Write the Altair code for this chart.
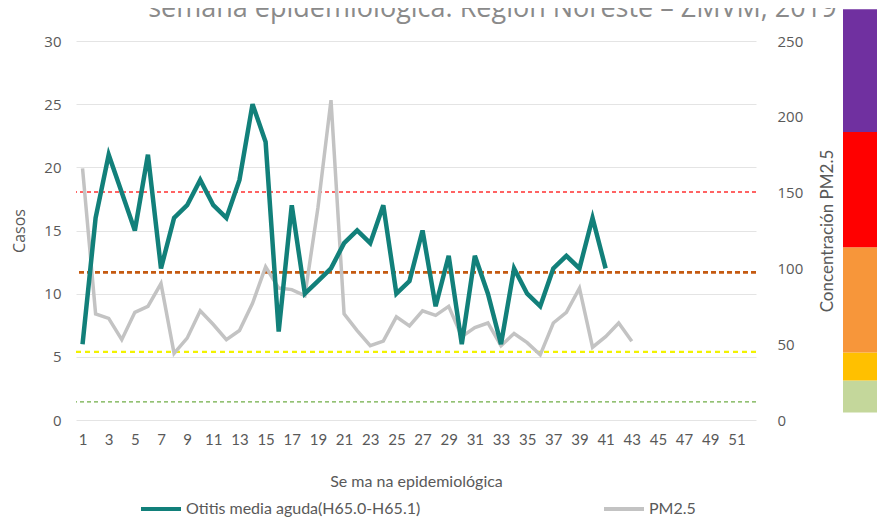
import altair as alt
import pandas as pd

# ---- data ----
weeks_all = list(range(1, 53))
week_ticks = list(range(1, 52, 2))

otitis_weeks = list(range(1, 42))
otitis_cases = [6, 16, 21, 18, 15, 21, 12, 16, 17, 19, 17, 16, 19, 25, 22, 7, 17, 10, 11, 12,
                14, 15, 14, 17, 10, 11, 15, 9, 13, 6, 13, 10, 6, 12, 10, 9, 12, 13, 12, 16, 12]

pm_weeks = list(range(1, 44))
pm_values = [166, 70, 67, 53, 71, 75, 90, 44, 54, 72, 63, 53, 59, 77, 101, 87, 86, 82, 140, 211,
             70, 59, 49, 52, 68, 62, 72, 69, 75, 55, 61, 64, 49, 57, 51, 43, 64, 71, 87, 48,
             55, 64, 52]

series_names = ["Otitis media aguda(H65.0-H65.1)", "PM2.5"]
series_colors = ["#12807a", "#c3c3c3"]

threshold_values = [12, 45, 97.4, 150.4]
threshold_colors = ["#70ad47", "#f2f200", "#c55a11", "#ff3030"]
threshold_widths = [1.3, 2.2, 2.6, 1.5]
threshold_dash = [[4, 3], [5, 4], [5, 3], [4, 3]]

band_lo = [5, 26, 44.5, 114, 190]
band_hi = [26, 44.5, 114, 190, 271]
band_colors = ["#c4d79b", "#ffc000", "#f7963a", "#ff0000", "#7030a0"]

title_text = "semana epidemiológica: Región Noreste – ZMVM, 2019"

TXT = "#595959"

df_ot = pd.DataFrame({"week": otitis_weeks, "val": otitis_cases, "serie": series_names[0]})
df_pm = pd.DataFrame({"week": pm_weeks, "val": pm_values, "serie": series_names[1]})

xenc = alt.X("week:O",
             scale=alt.Scale(domain=weeks_all, padding=0.5),
             axis=alt.Axis(values=week_ticks, labelAngle=0, title="Se ma na epidemiológica",
                           ticks=False, domain=False, grid=False, labelPadding=12,
                           labelFont="Lato", labelFontSize=15, labelColor=TXT,
                           titleFont="Lato", titleFontSize=16, titleFontWeight="normal",
                           titleColor=TXT, titlePadding=26))

color_enc = alt.Color("serie:N",
                      scale=alt.Scale(domain=series_names, range=series_colors),
                      legend=alt.Legend(orient="none", legendX=63, legendY=446,
                                        direction="horizontal", title=None,
                                        symbolType="stroke", symbolSize=1600,
                                        symbolStrokeWidth=4, columnPadding=175,
                                        labelFont="Lato", labelFontSize=16, labelColor=TXT,
                                        labelOffset=3, labelLimit=400, padding=0))

pm_scale = alt.Scale(domain=[0, 250], nice=False, zero=True)
pm_axis = alt.Axis(orient="right", title="Concentración PM2.5", values=[0, 50, 100, 150, 200, 250],
                   grid=False, domain=False, ticks=False, labelPadding=21,
                   labelFont="Open Sans", labelFontSize=15, labelColor=TXT,
                   titleFont="Lato", titleFontSize=17, titleFontWeight="normal",
                   titleColor=TXT, titleAngle=270, titlePadding=34)

rule_layers = []
for v, c, w, d in zip(threshold_values, threshold_colors, threshold_widths, threshold_dash):
    rule_layers.append(
        alt.Chart(pd.DataFrame({"val": [v]})).mark_rule(color=c, strokeWidth=w, strokeDash=d)
        .encode(y=alt.Y("val:Q", scale=pm_scale, axis=pm_axis))
    )

pm_line = alt.Chart(df_pm).mark_line(strokeWidth=3.5, strokeJoin="miter").encode(
    x=xenc,
    y=alt.Y("val:Q", scale=pm_scale, axis=pm_axis),
    color=color_enc,
)

pm_group = alt.layer(*rule_layers, pm_line)

ot_line = alt.Chart(df_ot).mark_line(strokeWidth=4.5, strokeJoin="miter").encode(
    x=xenc,
    y=alt.Y("val:Q", scale=alt.Scale(domain=[0, 30], nice=False),
            axis=alt.Axis(orient="left", title="Casos", values=[0, 5, 10, 15, 20, 25, 30],
                          grid=True, gridColor="#e4e4e4", gridWidth=1, domain=False, ticks=False,
                          labelPadding=15, labelFont="Open Sans", labelFontSize=15,
                          labelColor=TXT, titleFont="Open Sans", titleFontSize=16,
                          titleFontWeight="normal", titleColor=TXT, titlePadding=16)),
    color=color_enc,
)

main = alt.layer(pm_group, ot_line).resolve_scale(y="independent").properties(width=680, height=379)

df_band = pd.DataFrame({"lo": band_lo, "hi": band_hi, "c": band_colors})
bar = alt.Chart(df_band).mark_rect().encode(
    y=alt.Y("lo:Q", scale=alt.Scale(domain=[0, 250], nice=False, zero=True), axis=None),
    y2="hi:Q",
    color=alt.Color("c:N", scale=None),
).properties(width=34, height=379)

chart = alt.hconcat(main, bar, spacing=7).resolve_scale(color="independent").resolve_legend(
    color="independent"
).properties(
    title=alt.TitleParams(title_text, fontSize=27, font="Open Sans", color="#8a8a8a",
                          fontWeight="normal", anchor="middle", offset=-14, dx=48),
    padding={"left": 3, "top": -13, "right": 0, "bottom": 0},
    background="white",
).configure_view(strokeWidth=0, stroke=None)

chart.save("out.html", embed_options={"renderer": "svg", "actions": False})
